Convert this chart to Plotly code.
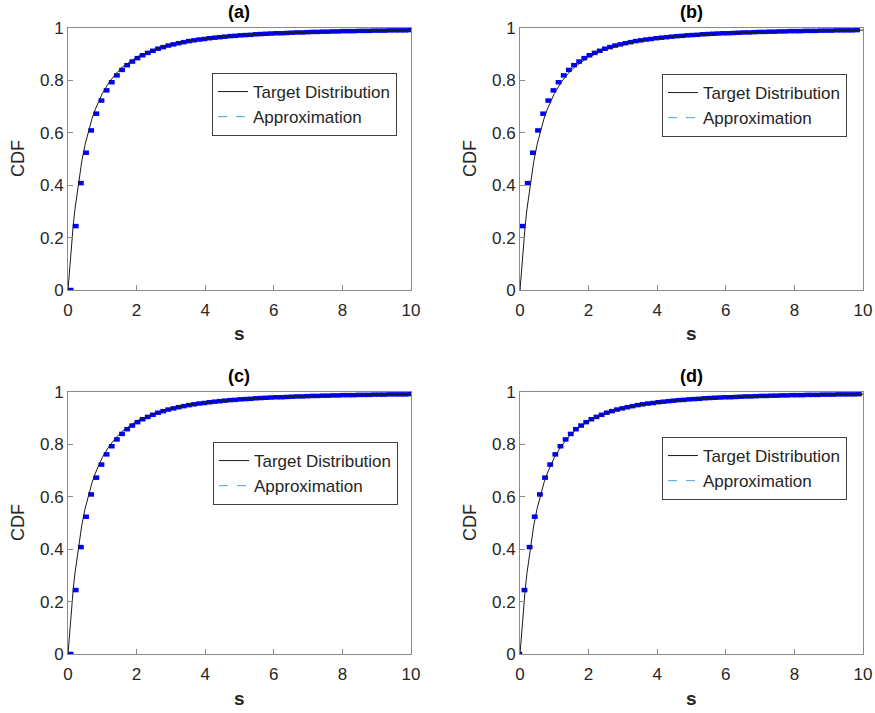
import plotly.graph_objects as go

# ---- data ----
panel_titles = ["(a)", "(b)", "(c)", "(d)"]

# target CDF curve
target_s = [0, 0.05, 0.1, 0.15, 0.2, 0.3, 0.4, 0.5, 0.6, 0.7, 0.8, 0.9, 1.0, 1.2, 1.4,
            1.6, 1.8, 2.0, 2.5, 3.0, 3.5, 4.0, 4.5, 5.0, 6.0, 7.0, 8.0, 9.0, 10.0]
target_cdf = [0, 0.093, 0.174, 0.244, 0.306, 0.408, 0.490, 0.556, 0.609, 0.654, 0.691,
              0.723, 0.750, 0.793, 0.826, 0.852, 0.872, 0.889, 0.918, 0.9375, 0.951,
              0.960, 0.967, 0.972, 0.980, 0.984, 0.988, 0.990, 0.992]

# approximation: step positions and levels (blue thick marks)
step_s = [0.00, 0.15, 0.30, 0.45, 0.60, 0.75, 0.90, 1.05, 1.20, 1.35, 1.50, 1.65, 1.80,
          1.95, 2.10, 2.25, 2.40, 2.55, 2.70, 2.85, 3.00, 3.15, 3.30, 3.45, 3.60, 3.75,
          3.90, 4.05, 4.20, 4.35, 4.50, 4.65, 4.80, 4.95, 5.10, 5.25, 5.40, 5.55, 5.70,
          5.85, 6.00, 6.15, 6.30, 6.45, 6.60, 6.75, 6.90, 7.05, 7.20, 7.35, 7.50, 7.65,
          7.80, 7.95, 8.10, 8.25, 8.40, 8.55, 8.70, 8.85, 9.00, 9.15, 9.30, 9.45, 9.60,
          9.75, 9.90]
step_cdf = [0.000, 0.244, 0.408, 0.524, 0.609, 0.673, 0.723, 0.762, 0.793, 0.819, 0.840,
            0.858, 0.872, 0.885, 0.896, 0.905, 0.913, 0.921, 0.927, 0.933, 0.9375, 0.942,
            0.946, 0.950, 0.953, 0.956, 0.958, 0.961, 0.963, 0.965, 0.967, 0.969, 0.970,
            0.972, 0.973, 0.974, 0.976, 0.977, 0.978, 0.979, 0.980, 0.980, 0.981, 0.982,
            0.983, 0.983, 0.984, 0.985, 0.985, 0.986, 0.986, 0.987, 0.987, 0.988, 0.988,
            0.988, 0.989, 0.989, 0.989, 0.990, 0.990, 0.990, 0.991, 0.991, 0.991, 0.991,
            0.992]

# horizontal extent of each step mark relative to its position, per panel
seg_offsets = [(-0.01, 0.16), (-0.16, 0.01), (-0.01, 0.16), (-0.105, 0.065)]

W, H = 875, 713


def px(X):
    return X / W


def py(Y):
    return 1 - Y / H


# plot areas in window pixels: (x0, x1, ytop, ybottom)
boxes = [(68, 411, 28, 290), (520, 863, 28, 290), (68, 411, 392, 654), (520, 863, 392, 654)]
legend_pos = [(212, 73), (662, 74), (213, 442), (662, 437)]

FONT = "Liberation Sans, Arial, sans-serif"
AXC = "#8a8a8a"
TXT = "#262626"

fig = go.Figure()
layout = dict(width=W, height=H,
              margin=dict(l=0, r=0, t=0, b=0, pad=0, autoexpand=False),
              paper_bgcolor="white", plot_bgcolor="white", showlegend=True,
              font=dict(family=FONT, size=17, color=TXT))
annotations = []

for i in range(4):
    x0, x1, yt, yb = boxes[i]
    sfx = "" if i == 0 else str(i + 1)
    xa, ya = "x" + sfx, "y" + sfx
    leg = "legend" + sfx
    common = dict(showline=True, mirror=True, linecolor=AXC, linewidth=1,
                  ticks="inside", ticklen=5, tickcolor=AXC, showgrid=False,
                  zeroline=False, automargin=False,
                  tickfont=dict(size=17, color=TXT, family=FONT))
    layout["xaxis" + sfx] = dict(domain=[px(x0), px(x1)], anchor=ya, range=[0, 10],
                                 dtick=2, tick0=0, ticklabelstandoff=5, **common)
    layout["yaxis" + sfx] = dict(domain=[py(yb), py(yt)], anchor=xa, range=[0, 1],
                                 dtick=0.2, tick0=0, **common)
    lx, ly = legend_pos[i]
    layout[leg] = dict(x=px(lx), y=py(ly), xanchor="left", yanchor="top",
                       bgcolor="white", bordercolor="#404040", borderwidth=1,
                       font=dict(size=17, color=TXT, family=FONT),
                       tracegroupgap=0, itemwidth=30)

    # approximation step marks
    lo, hi = seg_offsets[i]
    ax_x, ax_y = [], []
    for s, c in zip(step_s, step_cdf):
        ax_x += [s + lo, s + hi, None]
        ax_y += [c, c, None]
    fig.add_trace(go.Scatter(x=ax_x, y=ax_y, mode="lines", xaxis=xa, yaxis=ya,
                             line=dict(color="#0000ff", width=4.5), showlegend=False,
                             hoverinfo="skip"))
    # target
    fig.add_trace(go.Scatter(x=target_s, y=target_cdf, mode="lines", xaxis=xa, yaxis=ya,
                             line=dict(color="#1a1a1a", width=1),
                             name="Target Distribution", legend=leg))
    # legend entry for approximation
    fig.add_trace(go.Scatter(x=[None], y=[None], mode="lines", xaxis=xa, yaxis=ya,
                             line=dict(color="#4fa6d8", width=1, dash="dash"),
                             name="Approximation", legend=leg))

    cx = px((x0 + x1) / 2)
    annotations.append(dict(text="<b>" + panel_titles[i] + "</b>", x=cx, y=py(yt - 16),
                            xref="paper", yref="paper", showarrow=False,
                            xanchor="center", yanchor="middle",
                            font=dict(size=18, color="black", family=FONT)))
    annotations.append(dict(text="<b>s</b>", x=cx, y=py(yb + 44),
                            xref="paper", yref="paper", showarrow=False,
                            xanchor="center", yanchor="middle",
                            font=dict(size=19, color=TXT, family=FONT)))
    annotations.append(dict(text="CDF", x=px(x0 - 50), y=py((yt + yb) / 2),
                            xref="paper", yref="paper", showarrow=False, textangle=-90,
                            xanchor="center", yanchor="middle",
                            font=dict(size=18, color=TXT, family=FONT)))

layout["annotations"] = annotations
fig.update_layout(**layout)
# remove the browser's default 8px page margin so the figure fills the window
fig.write_html("out.html", config={"displayModeBar": False},
               post_script="document.body.style.margin='0';document.body.style.overflow='hidden';")
